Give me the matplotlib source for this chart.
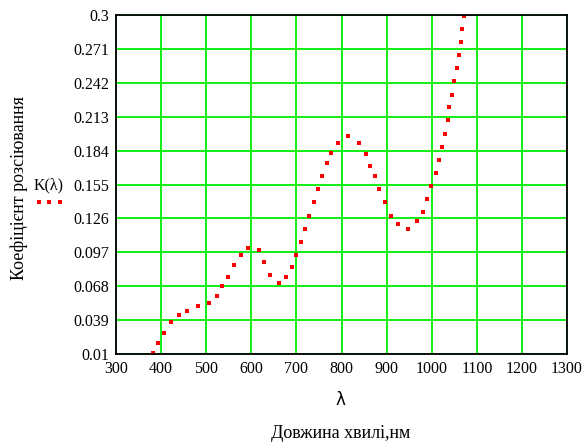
import matplotlib
matplotlib.use("Agg")
import matplotlib.pyplot as plt
from matplotlib.lines import Line2D

# data
wavelength = [381, 394, 406, 423, 439, 458, 481, 506, 523, 535, 548, 561, 577, 593,
              616, 629, 642, 662, 677, 690, 700, 710, 719, 729, 739, 748, 757, 768,
              776, 793, 815, 838, 854, 864, 874, 883, 896, 909, 926, 948, 968, 980,
              990, 999, 1010, 1016, 1023, 1029, 1035, 1039, 1045, 1049, 1055, 1061,
              1064, 1068, 1071]
k_value = [0.0111, 0.0197, 0.0282, 0.0371, 0.0434, 0.0471, 0.0511, 0.0536, 0.0596,
           0.0684, 0.0758, 0.0858, 0.0944, 0.1010, 0.0987, 0.0884, 0.0773, 0.0707,
           0.0758, 0.0847, 0.0944, 0.1061, 0.1172, 0.1283, 0.1397, 0.1511, 0.1622,
           0.1734, 0.1822, 0.1910, 0.1962, 0.1910, 0.1811, 0.1711, 0.1622, 0.1511,
           0.1397, 0.1283, 0.1209, 0.1172, 0.1235, 0.1312, 0.1423, 0.1534, 0.1648,
           0.1759, 0.1873, 0.1985, 0.2099, 0.2210, 0.2321, 0.2435, 0.2549, 0.2660,
           0.2772, 0.2883, 0.2994]

x_ticks = [300, 400, 500, 600, 700, 800, 900, 1000, 1100, 1200, 1300]
y_ticks = [0.01, 0.039, 0.068, 0.097, 0.126, 0.155, 0.184, 0.213, 0.242, 0.271, 0.3]
y_tick_labels = ["0.01", "0.039", "0.068", "0.097", "0.126", "0.155", "0.184",
                 "0.213", "0.242", "0.271", "0.3"]

plt.rcParams["font.family"] = ["Liberation Serif", "DejaVu Serif"]

fig = plt.figure(figsize=(5.87, 4.47), dpi=100)
ax = fig.add_axes([0.1976, 0.208, 0.7684, 0.758])

ax.plot(wavelength, k_value, linestyle="none", marker="s", markersize=3.0,
        color="red", markeredgewidth=0, clip_on=True)

ax.set_xlim(300, 1300)
ax.set_ylim(0.01, 0.3)
ax.set_xticks(x_ticks)
ax.set_yticks(y_ticks)
ax.set_yticklabels(y_tick_labels)
ax.tick_params(length=0, labelsize=11.5, pad=5)
ax.grid(True, color="#00ee00", linewidth=1.3)
for sp in ax.spines.values():
    sp.set_linewidth(1.3)
    sp.set_color("black")

fig.text(0.58, 0.105, "λ", ha="center", va="center", fontsize=12,
         family=["DejaVu Sans"])
fig.text(0.58, 0.03, "Довжина хвилі,нм", ha="center", va="center", fontsize=13)
fig.text(0.032, 0.58, "Коефіцієнт розсіювання", ha="center", va="center",
         rotation=90, fontsize=13)

# legend sample
fig.text(0.058, 0.585, "K(λ)", ha="left", va="center", fontsize=11.5)
fig.add_artist(Line2D([0.066, 0.084, 0.102], [0.548, 0.548, 0.548],
                      linestyle="none", marker="s", markersize=3.0, color="red",
                      markeredgewidth=0))

fig.savefig("out.png", dpi=100)
